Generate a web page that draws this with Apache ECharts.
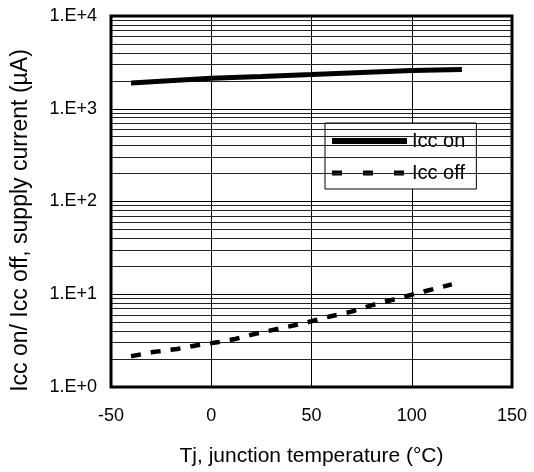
<!DOCTYPE html>
<html>
<head>
<meta charset="utf-8">
<script src="https://cdn.jsdelivr.net/npm/echarts@6/dist/echarts.min.js"></script>
<style>
html,body{margin:0;padding:0;background:#fff;}
#chart{width:534px;height:472px;}
</style>
</head>
<body>
<div id="chart"></div>
<script>
// ---- data ----
var iccOnTemp = [-40, 0, 25, 50, 75, 100, 125];
var iccOnVal  = [1900, 2130, 2230, 2340, 2460, 2580, 2650];

var iccOffTemp = [-40, -29, -17, -7, 3, 12, 22, 36, 48, 58, 70, 81, 94, 106, 120];
var iccOffVal  = [2.15, 2.38, 2.57, 2.82, 3.03, 3.29, 3.75, 4.36, 4.98, 5.69, 6.49, 7.71, 9.12, 10.7, 12.8];

var xTicks = [-50, 0, 50, 100, 150];
var yTickLabels = ['1.E+0', '1.E+1', '1.E+2', '1.E+3', '1.E+4'];
var decades = [1, 10, 100, 1000];
var minorMultipliers = [2, 3, 4, 5, 6, 7, 8, 9];

var FONT = "'Liberation Sans', Arial, sans-serif";

function pairs(xs, ys) { return xs.map(function (x, i) { return [x, ys[i]]; }); }

var minorLines = [];
decades.forEach(function (d) {
  minorMultipliers.forEach(function (m) { minorLines.push({ yAxis: d * m }); });
});

var chart = echarts.init(document.getElementById('chart'), null, { renderer: 'canvas' });
chart.setOption({
  animation: false,
  backgroundColor: '#fff',
  textStyle: { fontFamily: FONT, color: '#000' },
  grid: {
    left: 111, right: 22, top: 16, bottom: 85,
    show: true, borderColor: '#000', borderWidth: 3, backgroundColor: 'transparent', z: 10
  },
  legend: {
    left: 325, top: 123,
    orient: 'vertical',
    backgroundColor: '#fff',
    borderColor: '#000', borderWidth: 1,
    padding: [8, 11, 6, 7],
    itemWidth: 75, itemHeight: 14, itemGap: 12,
    textStyle: { fontFamily: FONT, fontSize: 20, color: '#000' },
    data: [
      { name: 'Icc on', icon: 'path://M0,4 L75,4 L75,10 L0,10 Z', itemStyle: { color: '#000' } },
      { name: 'Icc off', icon: 'path://M0,0 L10,0 L10,5 L0,5 Z M31,0 L41,0 L41,5 L31,5 Z M62,0 L72,0 L72,5 L62,5 Z M75,0 L75,5 Z', itemStyle: { color: '#000' } }
    ]
  },
  xAxis: {
    type: 'value',
    min: -50, max: 150, interval: 50,
    name: 'Tj, junction temperature (°C)',
    nameLocation: 'middle', nameGap: 59,
    nameTextStyle: { fontFamily: FONT, fontSize: 21, color: '#000' },
    axisLine: { show: false },
    axisTick: { show: false },
    axisLabel: { fontFamily: FONT, fontSize: 18, color: '#000', margin: 20,
      formatter: function (v) { return xTicks.indexOf(v) >= 0 ? String(v) : ''; } },
    splitLine: { show: true, lineStyle: { color: '#000', width: 1 } }
  },
  yAxis: {
    type: 'log', logBase: 10, min: 1, max: 10000,
    name: 'Icc on/ Icc off, supply current (µA)',
    nameLocation: 'middle', nameGap: 79,
    nameTextStyle: { fontFamily: FONT, fontSize: 23, color: '#000', padding: [0, 38, 0, 0] },
    axisLine: { show: false },
    axisTick: { show: false },
    axisLabel: { fontFamily: FONT, fontSize: 18, color: '#000', margin: 14,
      formatter: function (v) { return yTickLabels[Math.round(Math.log10(v))]; } },
    splitLine: { show: true, lineStyle: { color: '#000', width: 1 } }
  },
  series: [
    {
      name: 'minor grid',
      type: 'line',
      data: [],
      silent: true,
      z: 1,
      markLine: {
        silent: true,
        symbol: ['none', 'none'],
        label: { show: false },
        lineStyle: { color: '#222', width: 1, type: 'solid' },
        data: minorLines,
        animation: false
      }
    },
    {
      name: 'Icc on',
      type: 'line',
      data: pairs(iccOnTemp, iccOnVal),
      showSymbol: false,
      symbol: 'none',
      z: 5,
      lineStyle: { color: '#000', width: 5 },
      itemStyle: { color: '#000' }
    },
    {
      name: 'Icc off',
      type: 'line',
      data: pairs(iccOffTemp, iccOffVal),
      showSymbol: false,
      symbol: 'none',
      z: 5,
      lineStyle: { color: '#000', width: 4.5, type: [10, 10] },
      itemStyle: { color: '#000' }
    }
  ]
});
</script>
</body>
</html>
